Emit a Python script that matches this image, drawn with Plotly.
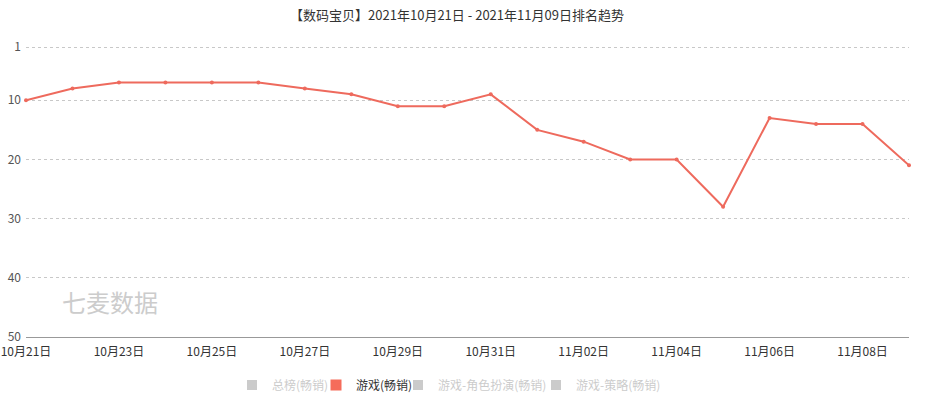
import plotly.graph_objects as go

dates = ["10月21日", "10月22日", "10月23日", "10月24日", "10月25日", "10月26日", "10月27日",
         "10月28日", "10月29日", "10月30日", "10月31日", "11月01日", "11月02日", "11月03日",
         "11月04日", "11月05日", "11月06日", "11月07日", "11月08日", "11月09日"]
ranks = [10, 8, 7, 7, 7, 7, 8, 9, 11, 11, 9, 15, 17, 20, 20, 28, 13, 14, 14, 21]
x_ticks = dates[::2]
y_ticks = [1, 10, 20, 30, 40, 50]
series_names = ["总榜(畅销)", "游戏(畅销)", "游戏-角色扮演(畅销)", "游戏-策略(畅销)"]
active_series = "游戏(畅销)"

title_text = "【数码宝贝】2021年10月21日 - 2021年11月09日排名趋势"
watermark = "七麦数据"

FONT = "Noto Sans CJK SC, Microsoft YaHei, sans-serif"
RED = "#ee6a5d"
W, H = 940, 399

# target screen x where each legend item's text starts
legend_text_x = [272, 356, 438, 576]

fig = go.Figure()

fig.add_trace(go.Scatter(
    x=dates, y=ranks, mode="lines+markers",
    line=dict(color=RED, width=2),
    marker=dict(color=RED, size=4),
    showlegend=False, cliponaxis=False,
    name=active_series,
))

legend_layouts = {}
for i, nm in enumerate(series_names):
    lg = "legend" if i == 0 else f"legend{i + 1}"
    if nm == active_series:
        fig.add_trace(go.Scatter(
            x=[None], y=[None], mode="markers", name=nm, legend=lg,
            marker=dict(symbol="square", size=11, color="#f56c5b"),
        ))
    else:
        fig.add_trace(go.Scatter(
            x=[None], y=[None], mode="markers", visible="legendonly", legend=lg,
            name=f"<span style='color:#999'>{nm}</span>",
            marker=dict(symbol="square", size=10, color="#999"),
        ))
    legend_layouts[lg] = dict(
        orientation="h", xref="container", yref="container",
        x=(legend_text_x[i] - 40) / W, y=1 - 385 / H, xanchor="left", yanchor="middle",
        font=dict(family=FONT, size=12, color="#333"),
        itemwidth=30, bgcolor="rgba(0,0,0,0)", borderwidth=0,
    )

fig.add_annotation(
    text=watermark, xref="paper", yref="paper", x=0.0385, y=0.123,
    xanchor="left", yanchor="middle", showarrow=False,
    font=dict(family=FONT, size=24, color="#cccccc"),
)

fig.update_layout(
    width=W, height=H,
    margin=dict(l=26, r=31, t=45, b=62, autoexpand=False),
    paper_bgcolor="white", plot_bgcolor="white",
    font=dict(family=FONT, size=12, color="#333"),
    title=dict(text=title_text, xref="container", yref="container",
               x=457 / W, y=1 - 15 / H, xanchor="center", yanchor="middle",
               font=dict(family=FONT, size=13, color="#333")),
    xaxis=dict(
        type="category", range=[0, len(dates) - 1], automargin=False,
        tickmode="array", tickvals=x_ticks, ticktext=x_ticks,
        showgrid=False, showline=True, linecolor="#999", linewidth=1,
        ticks="", tickfont=dict(family=FONT, size=12, color="#333"),
        ticklabelstandoff=4,
        zeroline=False, fixedrange=True,
    ),
    yaxis=dict(
        range=[50, 0.662], tickmode="array", tickvals=y_ticks, automargin=False,
        showgrid=True, gridcolor="#c8c8c8", griddash="dot", gridwidth=1,
        showline=False, ticks="", zeroline=False,
        tickfont=dict(family=FONT, size=12, color="#555"),
        ticklabelstandoff=4,
    ),
    **legend_layouts,
)

fig.write_html("out.html", config={"displayModeBar": False},
               post_script="document.body.style.margin='0px';")
